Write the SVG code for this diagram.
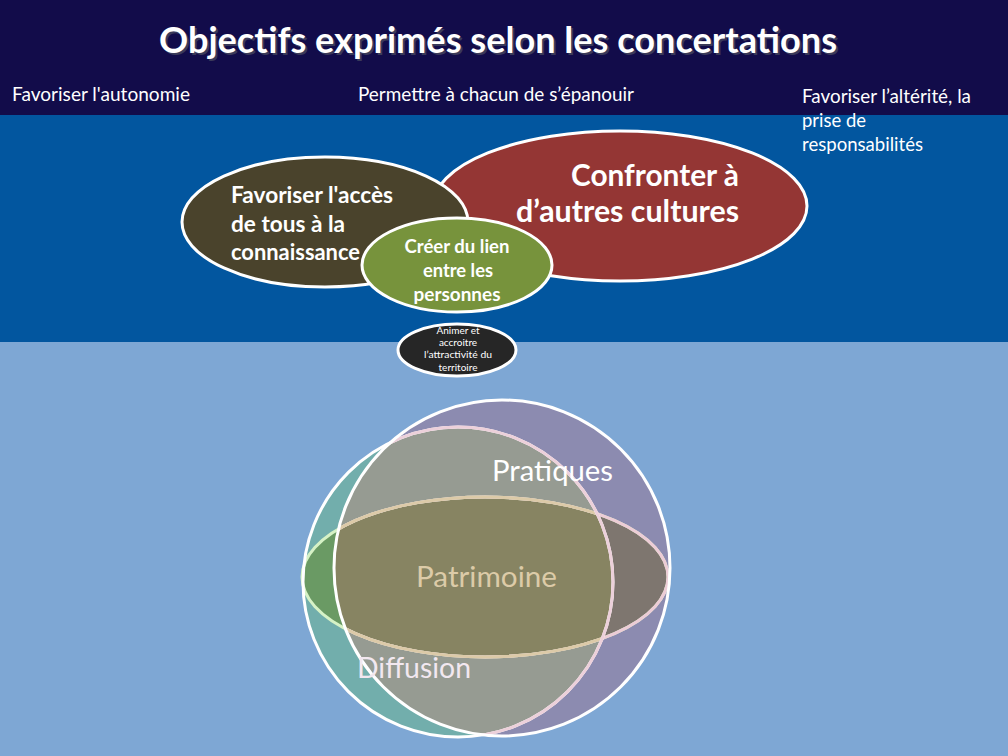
<svg xmlns="http://www.w3.org/2000/svg" width="1008" height="756" viewBox="0 0 1008 756">
<style>
.t{font-family:Lato,"Open Sans","Liberation Sans",sans-serif;fill:#fff}
.b{font-weight:bold}
.e{stroke:#fff;stroke-width:3}
</style>
<defs>
<clipPath id="clipA"><circle cx="502" cy="568" r="168"/></clipPath>
<clipPath id="clipB"><circle cx="458" cy="582" r="155"/></clipPath>
<clipPath id="clipC"><ellipse cx="485" cy="577" rx="183" ry="80"/></clipPath>
</defs>
<g id="background">
<rect x="0" y="0" width="1008" height="115" fill="#120c4a"/>
<rect x="0" y="115" width="1008" height="227" fill="#02569f"/>
<rect x="0" y="342" width="1008" height="414" fill="#7ea7d4"/>
</g>
<g id="title">
<text class="t b" x="500" y="55" font-size="36" text-anchor="middle" textLength="678" lengthAdjust="spacingAndGlyphs" style="fill:#3a3a5a">Objectifs exprimés selon les concertations</text>
<text class="t b" x="498" y="53" font-size="36" text-anchor="middle" textLength="678" lengthAdjust="spacingAndGlyphs">Objectifs exprimés selon les concertations</text>
</g>
<g id="labels">
<text class="t" x="12" y="101" font-size="19" textLength="178" lengthAdjust="spacingAndGlyphs">Favoriser l'autonomie</text>
<text class="t" x="358" y="101" font-size="19" textLength="276" lengthAdjust="spacingAndGlyphs">Permettre à chacun de s’épanouir</text>
<text class="t" x="802" y="103" font-size="19" textLength="169" lengthAdjust="spacingAndGlyphs">Favoriser l’altérité, la</text>
<text class="t" x="802" y="127" font-size="19" textLength="64" lengthAdjust="spacingAndGlyphs">prise de</text>
<text class="t" x="802" y="151" font-size="19" textLength="121" lengthAdjust="spacingAndGlyphs">responsabilités</text>
</g>
<g id="node-confronter">
<ellipse class="e" cx="620" cy="206" rx="187" ry="75" fill="#943634"/>
<text class="t b" x="739" y="186" font-size="29.5" text-anchor="end" textLength="168" lengthAdjust="spacingAndGlyphs">Confronter à</text>
<text class="t b" x="739" y="222" font-size="29.5" text-anchor="end" textLength="223" lengthAdjust="spacingAndGlyphs">d’autres cultures</text>
</g>
<g id="node-acces">
<ellipse class="e" cx="325" cy="222" rx="143" ry="65" fill="#4a432c"/>
<text class="t b" x="231" y="203" font-size="22.5" textLength="162" lengthAdjust="spacingAndGlyphs">Favoriser l'accès</text>
<text class="t b" x="231" y="232" font-size="22.5" textLength="114" lengthAdjust="spacingAndGlyphs">de tous à la</text>
<text class="t b" x="231" y="260" font-size="22.5" textLength="129" lengthAdjust="spacingAndGlyphs">connaissance</text>
</g>
<g id="node-lien">
<ellipse class="e" cx="457" cy="265" rx="95" ry="47" fill="#77933c"/>
<text class="t b" x="457" y="253" font-size="18" text-anchor="middle" textLength="105" lengthAdjust="spacingAndGlyphs">Créer du lien</text>
<text class="t b" x="458" y="277" font-size="18" text-anchor="middle" textLength="70" lengthAdjust="spacingAndGlyphs">entre les</text>
<text class="t b" x="457" y="301" font-size="18" text-anchor="middle" textLength="87" lengthAdjust="spacingAndGlyphs">personnes</text>
</g>
<g id="node-animer">
<ellipse class="e" cx="457" cy="350" rx="59" ry="26" fill="#262626"/>
<text class="t" x="458" y="334" font-size="10" text-anchor="middle">Animer et</text>
<text class="t" x="458" y="346" font-size="10" text-anchor="middle">accroitre</text>
<text class="t" x="458" y="358" font-size="10" text-anchor="middle" textLength="68" lengthAdjust="spacingAndGlyphs">l’attractivité du</text>
<text class="t" x="458" y="371" font-size="10" text-anchor="middle">territoire</text>
</g>
<g id="connectors"></g>
<g id="venn">
<g id="node-diffusion">
<circle cx="458" cy="582" r="155" fill="#72aeac"/>
</g>
<g id="node-pratiques">
<circle cx="502" cy="568" r="168" fill="#8c8bb0"/>
<g clip-path="url(#clipB)"><circle cx="502" cy="568" r="168" fill="#969b92"/></g>
</g>
<g id="node-patrimoine">
<ellipse cx="485" cy="577" rx="183" ry="80" fill="#6a9a64"/>
<g clip-path="url(#clipA)"><ellipse cx="485" cy="577" rx="183" ry="80" fill="#7e766f"/>
<g clip-path="url(#clipB)"><ellipse cx="485" cy="577" rx="183" ry="80" fill="#878462"/></g></g>
<ellipse cx="485" cy="577" rx="183" ry="80" fill="none" stroke="#d6f2c6" stroke-width="3"/>
<g clip-path="url(#clipA)"><ellipse cx="485" cy="577" rx="183" ry="80" fill="none" stroke="#ecccd6" stroke-width="3"/>
<g clip-path="url(#clipB)"><ellipse cx="485" cy="577" rx="183" ry="80" fill="none" stroke="#dccaa8" stroke-width="3"/></g></g>
</g>
<g id="venn-outlines">
<circle cx="458" cy="582" r="155" fill="none" stroke="#fff" stroke-width="3"/>
<g clip-path="url(#clipA)"><circle cx="458" cy="582" r="155" fill="none" stroke="#ecd0da" stroke-width="3"/></g>
<circle cx="502" cy="568" r="168" fill="none" stroke="#fff" stroke-width="3"/>
</g>
<text class="t" x="492" y="481" font-size="29" textLength="121" lengthAdjust="spacingAndGlyphs">Pratiques</text>
<text class="t" x="416" y="587" font-size="29" textLength="141" lengthAdjust="spacingAndGlyphs" style="fill:#dccba8">Patrimoine</text>
<text class="t" x="357" y="678" font-size="29" textLength="114" lengthAdjust="spacingAndGlyphs" style="fill:#f2e8f0">Diffusion</text>
</g>
</svg>
